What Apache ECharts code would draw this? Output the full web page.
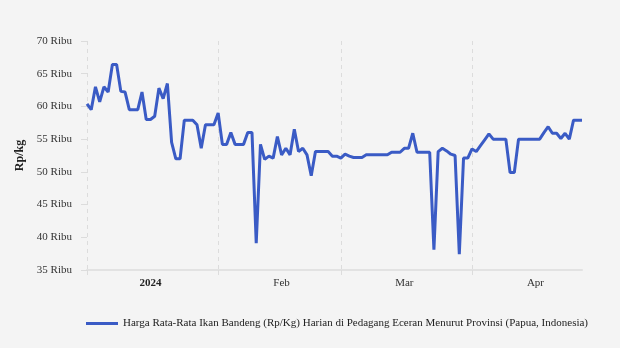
<!DOCTYPE html>
<html>
<head>
<meta charset="utf-8">
<script src="https://cdn.jsdelivr.net/npm/echarts@6/dist/echarts.min.js"></script>
<style>
  html, body { margin: 0; padding: 0; background: #f4f4f4; }
  #chart { width: 620px; height: 348px; }
</style>
</head>
<body>
<div id="chart"></div>
<script>
// Daily average retail price of milkfish (Rp/kg), Papua, 2024
const seriesName = 'Harga Rata-Rata Ikan Bandeng (Rp/Kg) Harian di Pedagang Eceran Menurut Provinsi (Papua, Indonesia)';
const startDate = '2024-01-01';

const pricesJan = [60400, 59500, 63000, 60700, 63000, 62200, 66400, 66400, 62300, 62200,
  59500, 59500, 59500, 62200, 58000, 58000, 58500, 62800, 61200, 63500,
  54500, 52000, 52000, 57900, 57900, 57900, 57200, 53600, 57200, 57200, 57200];
const pricesFeb = [59000, 54200, 54200, 56000, 54200, 54200, 54200, 56000, 56000, 39100,
  54200, 51900, 52400, 52100, 55400, 52600, 53600, 52600, 56500, 53100,
  53600, 52600, 49400, 53100, 53100, 53100, 53100, 52400, 52400];
const pricesMar = [52100, 52700, 52400, 52200, 52200, 52200, 52600, 52600, 52600, 52600,
  52600, 52600, 53000, 53000, 53000, 53600, 53600, 55900, 53000, 53000,
  53000, 53000, 38100, 53100, 53600, 53200, 52700, 52500, 37400, 52100, 52100];
const pricesApr = [53500, 53100, 54000, 54900, 55800, 55000, 55000, 55000, 55000, 49900,
  49900, 55000, 55000, 55000, 55000, 55000, 55000, 56000, 56900, 55900,
  55900, 55100, 55900, 55000, 57900, 57900, 57900];

const monthLabels = ['2024', 'Feb', 'Mar', 'Apr'];
const yMin = 35000, yMax = 70000, yStep = 5000;

const prices = [].concat(pricesJan, pricesFeb, pricesMar, pricesApr);

// one category per day
const dates = [];
const d0 = new Date(startDate + 'T00:00:00Z');
for (let i = 0; i < prices.length; i++) {
  const d = new Date(d0.getTime() + i * 86400000);
  dates.push(d.toISOString().slice(0, 10));
}
const dayOf = s => parseInt(s.slice(8, 10), 10);
const monthOf = s => parseInt(s.slice(5, 7), 10);

const FONT = "'Liberation Serif', 'Times New Roman', serif";
const GRID_COLOR = '#dcdcdc';
const LINE_COLOR = '#3a5bc5';

const chart = echarts.init(document.getElementById('chart'));
chart.setOption({
  backgroundColor: '#f4f4f4',
  animation: false,
  textStyle: { fontFamily: FONT },
  grid: { left: 87, right: 38, top: 41, bottom: 78 },
  legend: {
    left: 81, top: 313,
    itemWidth: 32, itemHeight: 3, itemGap: 10,
    icon: 'rect',
    textStyle: { fontFamily: FONT, fontSize: 11, color: '#222' },
    data: [seriesName]
  },
  xAxis: {
    type: 'category',
    boundaryGap: false,
    data: dates,
    axisLine: { lineStyle: { color: '#e2e2e2', width: 2 } },
    axisTick: {
      show: true, length: 5,
      interval: (i, v) => dayOf(v) === 1,
      lineStyle: { color: GRID_COLOR }
    },
    splitLine: {
      show: true,
      interval: (i, v) => dayOf(v) === 1,
      lineStyle: { color: GRID_COLOR, type: [4, 4], width: 1 }
    },
    axisLabel: {
      interval: (i, v) => dayOf(v) === 16,
      margin: 8,
      fontFamily: FONT, fontSize: 11, color: '#333',
      formatter: v => {
        const m = monthOf(v);
        return m === 1 ? '{yr|' + monthLabels[0] + '}' : monthLabels[m - 1];
      },
      rich: { yr: { fontFamily: FONT, fontSize: 11, fontWeight: 'bold', color: '#222' } }
    }
  },
  yAxis: {
    type: 'value',
    min: yMin, max: yMax, interval: yStep,
    name: 'Rp/kg',
    nameLocation: 'middle',
    nameGap: 58,
    nameRotate: 90,
    nameTextStyle: { fontFamily: FONT, fontSize: 12, fontWeight: 'bold', color: '#222' },
    axisLine: { show: false },
    axisTick: { show: true, length: 6, lineStyle: { color: GRID_COLOR } },
    splitLine: { show: false },
    axisLabel: {
      margin: 15,
      fontFamily: FONT, fontSize: 11, color: '#333',
      formatter: v => (v / 1000) + ' Ribu'
    }
  },
  series: [{
    name: seriesName,
    type: 'line',
    data: prices,
    symbol: 'none',
    lineStyle: { color: LINE_COLOR, width: 3 },
    itemStyle: { color: LINE_COLOR }
  }]
});
</script>
</body>
</html>
